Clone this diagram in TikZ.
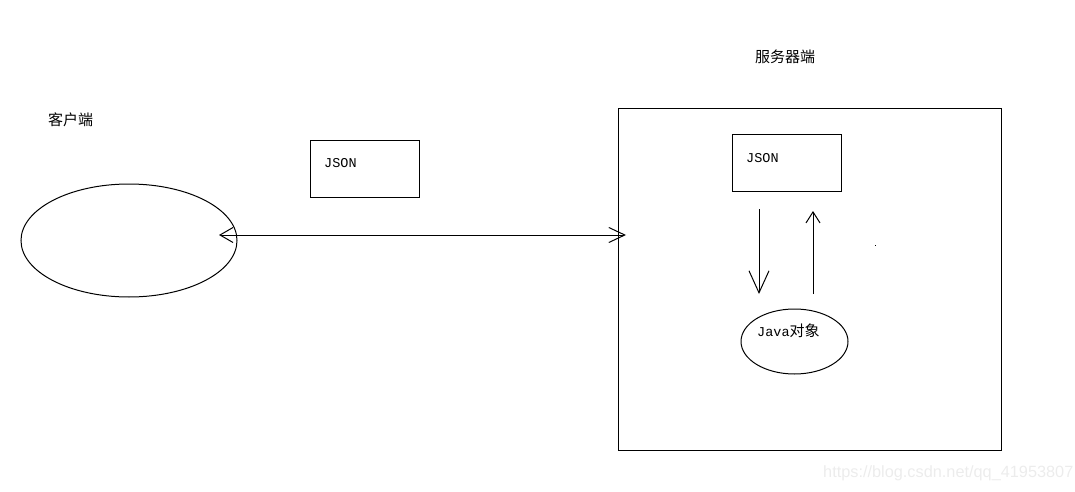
\documentclass[tikz,border=0pt]{standalone}
\usepackage{fontspec}
\setmonofont{Liberation Mono}
\newfontfamily\cjk{Noto Sans CJK SC}
\usetikzlibrary{shapes.geometric,arrows.meta}
\begin{document}
\begin{tikzpicture}[x=1pt,y=-1pt,
  thin1/.style={line width=1pt,draw=black},
  boxnode/.style={thin1,rectangle,inner sep=0pt,anchor=north west},
  ovalnode/.style={thin1,ellipse,inner sep=0pt},
  cjklabel/.style={font=\cjk\fontsize{15}{15}\selectfont,inner sep=0pt,anchor=west},
  monolabel/.style={font=\ttfamily\fontsize{13.5}{13.5}\selectfont,inner sep=0pt,anchor=base west},
]
\useasboundingbox (0,0) rectangle (1075,492);
% client
\node[cjklabel] (clientlbl) at (48,120) {客户端};
\node[ovalnode,minimum width=216pt,minimum height=113pt] (client) at (129,240.5) {};
% left JSON box
\node[boxnode,minimum width=109pt,minimum height=57pt] (jsonL) at (310,140) {};
\node[monolabel] (jsonLt) at (324,167) {JSON};
% server
\node[cjklabel] (serverlbl) at (755,57) {服务器端};
\node[boxnode,minimum width=383pt,minimum height=342pt] (server) at (618,108) {};
\node[boxnode,minimum width=109pt,minimum height=57pt] (jsonR) at (732,134) {};
\node[monolabel] (jsonRt) at (746,162) {JSON};
\node[ovalnode,minimum width=107pt,minimum height=65pt] (obj) at (794.5,341.5) {};
\node[inner sep=0pt,anchor=west] (objt) at (757,331) {\ttfamily\fontsize{13.5}{13.5}\selectfont Java\cjk\fontsize{15}{15}\selectfont 对象};
% connectors
\coordinate (a1) at (219,235);
\coordinate (a2) at (626,235);
\draw[thin1,{Straight Barb[length=13pt,width=15pt,line width=1pt]}-{Straight Barb[length=16pt,width=15pt,line width=1pt]}] (a1) -- (a2);
\coordinate (d1) at (759,209);
\coordinate (d2) at (759,294);
\draw[thin1,-{Straight Barb[length=22pt,width=20pt,line width=1pt]}] (d1) -- (d2);
\coordinate (u1) at (813,294);
\coordinate (u2) at (813,211);
\draw[thin1,-{Straight Barb[length=11pt,width=14pt,line width=1pt]}] (u1) -- (u2);
% stray dot
\fill[black] (874.5,244.5) rectangle (875.5,245.5);
% watermark
\node[font=\fontspec{Liberation Sans}\fontsize{16.3}{16.3}\selectfont,text=gray!15,inner sep=0pt,anchor=west] (wm) at (823,473) {https://blog.csdn.net/qq\_41953807};
\end{tikzpicture}
\end{document}
